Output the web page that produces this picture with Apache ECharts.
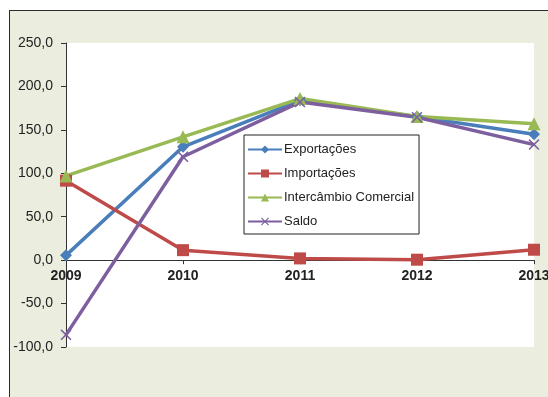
<!DOCTYPE html>
<html>
<head>
<meta charset="utf-8">
<script src="https://cdn.jsdelivr.net/npm/echarts@6/dist/echarts.min.js"></script>
<style>
html,body{margin:0;padding:0;background:#fff;overflow:hidden;}
#wrap{position:relative;width:548px;height:397px;overflow:hidden;}
#frame{position:absolute;left:9px;top:10px;width:600px;height:450px;background:#EBEEDF;border-left:1px solid #2a2a2a;border-top:1px solid #2a2a2a;}
#chart{position:absolute;left:0;top:0;width:548px;height:397px;}
</style>
</head>
<body>
<div id="wrap"><div id="frame"></div><div id="chart"></div></div>
<script>
const years = ['2009', '2010', '2011', '2012', '2013'];
const exportacoes = [5.5, 130.5, 184, 165, 145];
const importacoes = [91.5, 11.5, 2, 0.5, 12];
const intercambio = [97, 142, 186, 165.5, 157];
const saldo = [-86, 119, 182, 164.5, 133];
const yTicks = { min: -100, max: 250, interval: 50 };

const crossPath = 'path://M0,1 L1,0 L5,4 L9,0 L10,1 L6,5 L10,9 L9,10 L5,6 L1,10 L0,9 L4,5 Z';
const font = '"Liberation Sans", Arial, sans-serif';

const chart = echarts.init(document.getElementById('chart'), null, { renderer: 'canvas' });
const gridTop = 43, gridBottom = 50, plotH = 397 - gridTop - gridBottom;
// move x axis to the zero line (whole axis incl. labels)
const zeroOffset = -plotH * (0 - yTicks.min) / (yTicks.max - yTicks.min);

function mk(name, data, color, symbol, size) {
  return {
    name, type: 'line', data, symbol, symbolSize: size, showSymbol: true,
    lineStyle: { color, width: 3.5 },
    itemStyle: { color },
    emphasis: { disabled: true },
    animation: false
  };
}
chart.setOption({
  animation: false,
  textStyle: { fontFamily: font },
  grid: {
    left: 66, right: 14, top: gridTop, bottom: gridBottom,
    outerBoundsMode: 'none', containLabel: false,
    show: true, backgroundColor: '#ffffff', borderWidth: 0
  },
  legend: {
    orient: 'vertical',
    left: 244, top: 135,
    padding: [8, 5, 6, 3],
    backgroundColor: '#ffffff',
    borderColor: '#222', borderWidth: 1,
    itemWidth: 34, itemHeight: 10, itemGap: 11,
    textStyle: { fontFamily: font, fontSize: 13, color: '#222', padding: [0, 0, 0, -3] },
    data: ['Exportações', 'Importações', 'Intercâmbio Comercial', 'Saldo']
  },
  xAxis: {
    type: 'category', data: years, boundaryGap: false,
    offset: zeroOffset,
    axisLine: { onZero: false, lineStyle: { color: '#333', width: 1 } },
    axisTick: { show: true, length: 4, lineStyle: { color: '#333' } },
    axisLabel: { fontFamily: font, fontSize: 14, fontWeight: 'bold', color: '#222', margin: 9, hideOverlap: false },
    splitLine: { show: false }
  },
  yAxis: {
    type: 'value', min: yTicks.min, max: yTicks.max, interval: yTicks.interval,
    axisLine: { show: true, lineStyle: { color: '#333', width: 1 } },
    axisTick: { show: true, length: 5, lineStyle: { color: '#333' } },
    axisLabel: {
      fontFamily: font, fontSize: 14, color: '#222', margin: 13,
      formatter: v => v.toFixed(1).replace('.', ',')
    },
    splitLine: { show: false }
  },
  series: [
    mk('Exportações', exportacoes, '#4A7EBB', 'diamond', 12),
    mk('Importações', importacoes, '#BE4B48', 'rect', 12),
    mk('Intercâmbio Comercial', intercambio, '#98B954', 'triangle', 13),
    mk('Saldo', saldo, '#7D5FA0', crossPath, 11)
  ]
});
</script>
</body>
</html>
